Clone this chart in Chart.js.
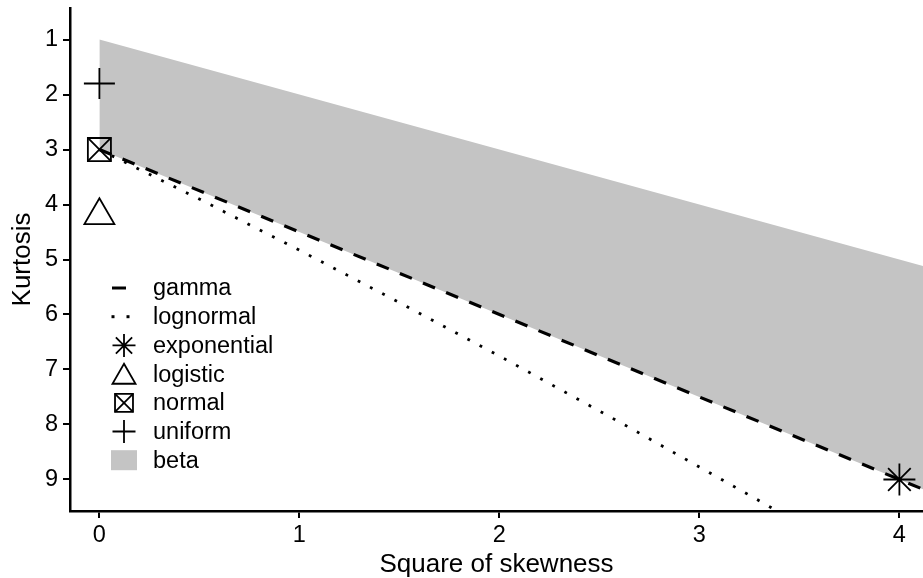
<!DOCTYPE html>
<html>
<head>
<meta charset="utf-8">
<script src="https://cdn.jsdelivr.net/npm/chart.js@4/dist/chart.umd.min.js"></script>
<style>
  html, body { margin: 0; padding: 0; background: #fff; }
  #wrap { width: 923px; height: 578px; }
</style>
</head>
<body>
<div id="wrap"><canvas id="cf" width="923" height="578"></canvas></div>
<script>
// axis ticks
const xTicks = [0, 1, 2, 3, 4];
const yTicks = [1, 2, 3, 4, 5, 6, 7, 8, 9];

// gamma line (lower edge of the beta area)
const gammaSkew = [0, 4.118];
const gammaKurt = [3, 9.177];

// upper edge of the beta area
const betaSkew = [0, 4.118];
const betaKurt = [1, 5.118];

// lognormal curve
const lognormSkew = [0, 0.465, 0.961, 1.488, 2.048, 2.64, 3.267, 3.527];
const lognormKurt = [3, 3.838, 4.756, 5.759, 6.85, 8.035, 9.32, 9.863];

// single distributions: [square of skewness, kurtosis]
const uniformPt = [0, 1.8];
const normalPt = [0, 3];
const logisticPt = [0, 4.2];
const exponentialPt = [4, 9];

const FONT = "'Liberation Sans', Arial, sans-serif";
const GREY = 'rgb(196,196,196)';
const CLEAR = 'rgba(0,0,0,0)';

const pts = (xs, ys) => xs.map((x, i) => ({ x: x, y: ys[i] }));

const marker = (pt, style, radius) => ({
    data: [{ x: pt[0], y: pt[1] }],
    showLine: false,
    pointStyle: style,
    pointRadius: radius,
    pointBorderColor: '#000',
    pointBackgroundColor: CLEAR,
    pointBorderWidth: 1.8
});

// drop the room Chart.js keeps for half tick labels at the scale ends
const noPad = (s) => {
    s.paddingTop = 0; s.paddingBottom = 0;
    s.paddingLeft = 0; s.paddingRight = 0;
};

// legend drawn inside the plot area
const legendItems = [
    { label: 'gamma', kind: 'dash' },
    { label: 'lognormal', kind: 'dot' },
    { label: 'exponential', kind: 'point', style: 'star', r: 11.5 },
    { label: 'logistic', kind: 'point', style: 'triangle', r: 13.3 },
    { label: 'normal', kind: 'normal', r: 12.7 },
    { label: 'uniform', kind: 'point', style: 'cross', r: 11.5 },
    { label: 'beta', kind: 'box' }
];

const insideLegend = {
    id: 'insideLegend',
    afterDraw(chart) {
        const ctx = chart.ctx;
        const sx = 124, tx = 153, y0 = 288, step = 28.7;
        legendItems.forEach((it, i) => {
            const y = y0 + i * step;
            ctx.save();
            ctx.strokeStyle = '#000';
            ctx.fillStyle = CLEAR;
            ctx.lineWidth = 1.8;
            if (it.kind === 'dash') {
                ctx.lineWidth = 3;
                ctx.beginPath();
                ctx.moveTo(112, y); ctx.lineTo(126, y);
                ctx.stroke();
            } else if (it.kind === 'dot') {
                ctx.fillStyle = '#000';
                ctx.fillRect(111.5, y - 1.5, 3, 3);
                ctx.fillRect(126.5, y - 1.5, 3, 3);
            } else if (it.kind === 'box') {
                ctx.fillStyle = GREY;
                ctx.fillRect(111, y - 10, 26, 20);
            } else if (it.kind === 'normal') {
                Chart.helpers.drawPoint(ctx, { pointStyle: 'rect', radius: it.r, rotation: 0, borderWidth: 1.8 }, sx, y);
                Chart.helpers.drawPoint(ctx, { pointStyle: 'crossRot', radius: it.r, rotation: 0, borderWidth: 1.8 }, sx, y);
            } else {
                const yy = it.style === 'triangle' ? y + 3 : y;
                Chart.helpers.drawPoint(ctx, { pointStyle: it.style, radius: it.r, rotation: 0, borderWidth: 1.8 }, sx, yy);
            }
            ctx.fillStyle = '#000';
            ctx.font = '23.5px ' + FONT;
            ctx.textAlign = 'left';
            ctx.textBaseline = 'middle';
            ctx.fillText(it.label, tx, y + 1);
            ctx.restore();
        });
    }
};

new Chart(document.getElementById('cf'), {
    type: 'scatter',
    data: {
        datasets: [
            {
                // beta area: filled down to the gamma line
                data: pts(betaSkew, betaKurt),
                showLine: true,
                borderWidth: 0,
                borderColor: CLEAR,
                pointRadius: 0,
                fill: { target: 1 },
                backgroundColor: GREY
            },
            {
                data: pts(gammaSkew, gammaKurt),
                showLine: true,
                borderColor: '#000',
                borderWidth: 3.2,
                borderDash: [13, 12],
                pointRadius: 0,
                fill: false
            },
            {
                data: pts(lognormSkew, lognormKurt),
                showLine: true,
                borderColor: '#000',
                borderWidth: 2.8,
                borderDash: [2.8, 11],
                pointRadius: 0,
                fill: false
            },
            marker(uniformPt, 'cross', 15.5),
            marker(normalPt, 'rect', 16.3),
            marker(normalPt, 'crossRot', 16.3),
            marker(logisticPt, 'triangle', 17.3),
            marker(exponentialPt, 'star', 16)
        ]
    },
    options: {
        responsive: false,
        animation: false,
        events: [],
        layout: { autoPadding: false, padding: { top: 8, right: 0, left: 0, bottom: 0 } },
        plugins: {
            legend: { display: false },
            tooltip: { enabled: false },
            filler: { drawTime: 'beforeDatasetsDraw' }
        },
        scales: {
            x: {
                type: 'linear',
                min: -0.147,
                max: 4.118,
                afterBuildTicks: (s) => { s.ticks = xTicks.map(v => ({ value: v })); },
                afterFit: (s) => { s.height = 67; noPad(s); },
                grid: { display: true, drawOnChartArea: false, drawTicks: true, tickLength: 7, color: '#000', lineWidth: 2 },
                border: { display: true, color: '#000', width: 2.5 },
                ticks: { color: '#000', padding: 3, font: { family: FONT, size: 23.5 }, maxRotation: 0 },
                title: { display: true, text: 'Square of skewness', color: '#000', font: { family: FONT, size: 26, lineHeight: 1 }, padding: { top: 0, bottom: 0 } }
            },
            y: {
                type: 'linear',
                reverse: true,
                min: 0.427,
                max: 9.573,
                afterBuildTicks: (s) => { s.ticks = yTicks.map(v => ({ value: v })); },
                afterFit: (s) => { s.width = 70; noPad(s); },
                grid: { display: true, drawOnChartArea: false, drawTicks: true, tickLength: 7, color: '#000', lineWidth: 2 },
                border: { display: true, color: '#000', width: 2.5 },
                ticks: { color: '#000', padding: 5, font: { family: FONT, size: 23.5 } },
                title: { display: true, text: 'Kurtosis', color: '#000', font: { family: FONT, size: 26, lineHeight: 1 }, padding: { top: 10, bottom: 0 } }
            }
        }
    },
    plugins: [insideLegend]
});
</script>
</body>
</html>
